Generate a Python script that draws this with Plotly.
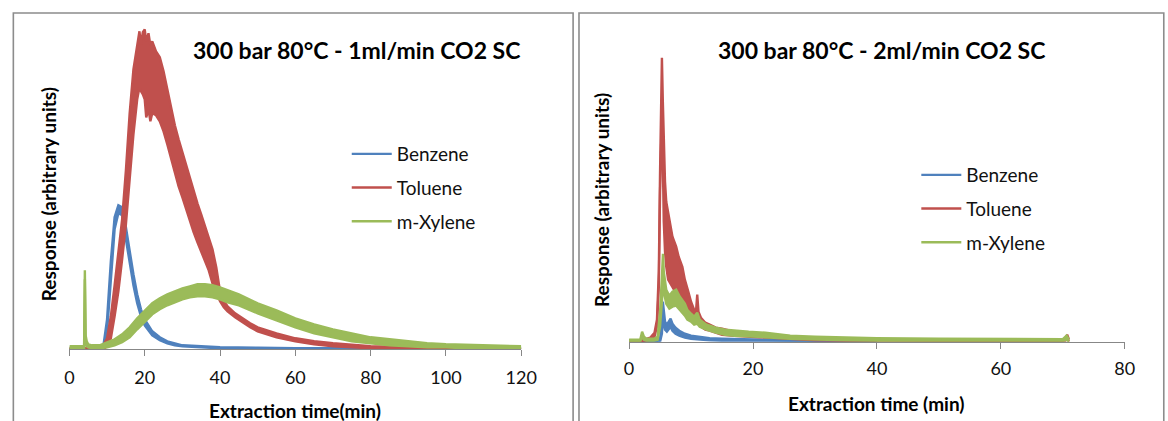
import plotly.graph_objects as go

W, H = 1168, 421

# ---------------- Left panel: 1 ml/min ----------------
L_benz_t = [0, 8, 9, 10, 11, 12, 13, 14, 15, 16, 17, 18, 19, 20, 22, 24, 26, 28, 30, 35, 40, 50, 60, 80, 100, 120]
L_benz_hi = [1, 1, 3, 30, 88, 132, 144, 142, 122, 96, 75, 55, 40, 30, 18, 12, 8, 6, 4, 3, 2, 1.5, 1, 1, 1, 1]
L_benz_lo = [0, 0, 0, 18, 70, 120, 136, 134, 110, 86, 64, 46, 33, 24, 14, 9, 6, 4, 3, 2, 1, 0.5, 0, 0, 0, 0]

L_tol_t = [0, 4, 8, 9, 10, 11, 12, 13, 14, 15, 16, 17, 18, 18.6, 19, 19.5, 20, 20.4, 21, 21.5, 22, 23, 24, 25, 26, 27, 28, 29,
           30, 31, 32, 33, 34, 35, 36, 37, 38, 39, 40, 41, 42, 44, 46, 48, 50, 55, 60, 65, 70, 80, 90, 100, 110, 120]
L_tol_hi = [1, 1, 2, 4, 11, 33, 64, 95, 130, 179, 236, 280, 306, 318, 305, 317, 320, 308, 316, 304, 308, 298, 292, 278, 260, 242, 224, 210,
            197, 183, 170, 158, 146, 135, 124, 112, 100, 82, 58, 48, 43, 36, 31, 26, 22, 16, 11, 8, 6, 3, 2, 1, 1, 1]
L_tol_lo = [0, 0, 0, 0, 3, 11, 33, 58, 90, 125, 170, 215, 250, 262, 258, 255, 250, 232, 240, 228, 236, 234, 228, 218, 205, 190, 176, 163,
            152, 140, 128, 117, 107, 97, 88, 79, 66, 56, 48, 42, 38, 32, 27, 22, 18, 12, 8, 5, 3, 1, 0, 0, 0, 0]

L_xyl_t = [0, 3.9, 4.1, 4.3, 4.6, 5.0, 6, 7, 8, 10, 12, 14, 16, 18, 20, 22, 24, 26, 28, 30, 32, 34, 36, 38, 40,
           42, 45, 50, 55, 60, 65, 70, 75, 80, 85, 90, 95, 100, 105, 110, 115, 120]
L_xyl_hi = [3, 3, 79, 14, 8, 5, 4, 4, 4, 7, 10, 15, 22, 31, 39, 46, 51, 55, 58, 61, 63, 65, 65, 64, 62,
            59, 55, 46, 39, 31, 25, 20, 16, 12, 10, 8, 6, 5, 4.5, 4, 3.5, 3]
L_xyl_lo = [0, 0, 70, 6, 3, 2, 1, 1, 1, 2, 4, 7, 12, 20, 28, 35, 40, 44, 47, 50, 52, 53, 53, 52, 50,
            47, 44, 36, 29, 22, 16, 12, 8, 6, 4, 3, 2, 2, 1, 1, 1, 1]

# ---------------- Right panel: 2 ml/min ----------------
R_benz_t = [0, 4.5, 5.0, 5.3, 5.45, 5.6, 5.8, 6.1, 6.4, 6.7, 7.0, 7.5, 8.1, 9.0, 10, 11.5, 13, 15, 18, 22, 26, 30, 35, 40]
R_benz_hi = [1, 1, 3, 20, 40, 30, 20, 17, 20, 23, 18, 14, 11, 8, 6, 4.5, 3.5, 3, 2.5, 2, 1.5, 1, 0.5, 0.5]
R_benz_lo = [0, 0, 0, 8, 28, 18, 12, 10, 13, 15, 11, 8, 6, 4, 3, 2, 1.5, 1, 0.5, 0.5, 0, 0, 0, 0]

R_tol_t = [0, 2, 3.4, 4.1, 4.5, 4.8, 5.0, 5.15, 5.3, 5.45, 5.6, 5.8, 6.0, 6.3, 6.7, 7.0, 7.6, 8.0, 8.6, 9.0, 9.6,
           10.0, 10.5, 10.8, 11.0, 11.2, 11.6, 12.3, 13, 14, 15, 17, 19, 21, 23, 26, 30, 35, 40, 50, 60, 70, 70.4, 70.7, 71]
R_tol_hi = [1, 1, 4, 9, 22, 70, 170, 220, 284, 240, 190, 160, 140, 129, 112, 105, 95, 85, 75, 62, 49,
            40, 32, 30, 47, 30, 24, 19, 17, 14, 13, 10, 9, 8, 7, 5, 3.5, 2.5, 2, 1.5, 1.5, 1.5, 3, 7, 2]
R_tol_lo = [0, 0, 2, 5, 15, 55, 150, 190, 230, 180, 120, 90, 75, 62, 58, 54, 49, 44, 35, 30, 25,
            22, 20, 19, 21, 18, 15, 12, 11, 9, 7, 6, 5, 4.5, 4, 3, 1.5, 1, 0.5, 0, 0, 0, 1, 3, 0]

R_xyl_t = [0, 1.8, 2.1, 2.4, 2.8, 4.0, 4.6, 5.0, 5.3, 5.47, 5.6, 5.8, 6.0, 6.5, 7.0, 7.6, 8.2, 9.0, 9.4, 10.0,
           10.5, 11.0, 11.4, 12.5, 14, 15.5, 17, 19.3, 22, 26, 30, 35, 40, 50, 60, 70, 70.6, 71]
R_xyl_hi = [2, 2, 10, 5, 3, 3, 5, 30, 65, 88, 70, 58, 52, 46, 50, 52, 45, 38, 32, 28,
            25, 29, 22, 17, 14, 12, 11, 10, 9, 6, 5, 4, 3.5, 3, 2.5, 2.5, 6, 2]
R_xyl_lo = [0, 0, 5, 2, 1, 1, 2, 15, 40, 60, 50, 42, 38, 33, 35, 36, 32, 26, 22, 20,
            17, 18, 15, 12, 9, 7, 6, 5, 4.5, 3, 2, 1.5, 1, 1, 0.5, 0.5, 2, 0]

names = ["Benzene", "Toluene", "m-Xylene"]
colors = ["#4F81BD", "#C0504D", "#9BBB59"]
left_ticks = [0, 20, 40, 60, 80, 100, 120]
right_ticks = [0, 20, 40, 60, 80]
titles = ["300 bar 80°C - 1ml/min CO2 SC", "300 bar 80°C - 2ml/min CO2 SC"]
xtitles = ["Extraction time(min)", "Extraction time (min)"]
ytitle = "Response (arbitrary units)"

FONT = "Lato, 'Open Sans', sans-serif"

def px(x):
    return x / W

def py(y):
    return 1 - y / H

fig = go.Figure()

panels = [
    ("x", "y", "legend", [(L_benz_t, L_benz_hi, L_benz_lo), (L_tol_t, L_tol_hi, L_tol_lo), (L_xyl_t, L_xyl_hi, L_xyl_lo)]),
    ("x2", "y2", "legend2", [(R_benz_t, R_benz_hi, R_benz_lo), (R_tol_t, R_tol_hi, R_tol_lo), (R_xyl_t, R_xyl_hi, R_xyl_lo)]),
]

for xa, ya, lg, series in panels:
    for i, (t, hi, lo) in enumerate(series):
        grp = f"{lg}-{i}"
        fig.add_trace(go.Scatter(x=t, y=hi, mode="lines", name=names[i],
                                 line=dict(color=colors[i], width=2.4),
                                 xaxis=xa, yaxis=ya, legend=lg, legendgroup=grp,
                                 showlegend=True, hoverinfo="skip"))
        fig.add_trace(go.Scatter(x=t, y=lo, mode="lines", name=names[i],
                                 line=dict(color=colors[i], width=2.4),
                                 fill="tonexty", fillcolor=colors[i],
                                 xaxis=xa, yaxis=ya, legend=lg, legendgroup=grp,
                                 showlegend=False, hoverinfo="skip"))

axis_common = dict(showgrid=False, zeroline=False, showline=True, linecolor="#878787", linewidth=1.3,
                   ticks="outside", ticklen=6, tickcolor="#878787", tickwidth=1.3,
                   tickfont=dict(family=FONT, size=18, color="#111"))
yaxis_common = dict(showgrid=False, zeroline=False, showline=False, showticklabels=False, ticks="")

LEG_FONT = dict(family=FONT, size=19, color="#111")

fig.update_layout(
    width=W, height=H,
    margin=dict(l=0, r=0, t=0, b=0),
    paper_bgcolor="white", plot_bgcolor="rgba(0,0,0,0)",
    font=dict(family=FONT, color="#111"),
    xaxis=dict(domain=[px(65.6), px(525.7)], range=[0, 120], tickvals=left_ticks,
               ticklabelstandoff=6, anchor="y", **axis_common),
    yaxis=dict(domain=[py(349.3), py(19)], range=[0, 330.3], anchor="x", **yaxis_common),
    xaxis2=dict(domain=[px(635.5), px(1140.3)], range=[0, 80], tickvals=right_ticks,
                ticklabelstandoff=5, anchor="y2", **axis_common),
    yaxis2=dict(domain=[py(341.7), py(19)], range=[0, 322.7], anchor="x2", **yaxis_common),
    legend=dict(x=px(397 - 49), y=py(135), xanchor="left", yanchor="top",
                font=LEG_FONT, tracegroupgap=6,
                bgcolor="rgba(0,0,0,0)", itemwidth=40),
    legend2=dict(x=px(977 - 49), y=py(156), xanchor="left", yanchor="top",
                 font=LEG_FONT, tracegroupgap=6,
                 bgcolor="rgba(0,0,0,0)", itemwidth=40),
    shapes=[
        dict(type="rect", xref="paper", yref="paper", x0=px(8.5), x1=px(578.5), y0=py(430), y1=py(13),
             line=dict(color="#8C8C8C", width=1.6), layer="below"),
        dict(type="rect", xref="paper", yref="paper", x0=px(584.5), x1=px(1180), y0=py(430), y1=py(13),
             line=dict(color="#8C8C8C", width=1.6), layer="below"),
    ],
    annotations=[
        dict(text=f"<b>{titles[0]}</b>", x=px(358), y=py(50), xref="paper", yref="paper",
             showarrow=False, xanchor="center", yanchor="middle", font=dict(family=FONT, size=23, color="#000")),
        dict(text=f"<b>{titles[1]}</b>", x=px(893), y=py(50), xref="paper", yref="paper",
             showarrow=False, xanchor="center", yanchor="middle", font=dict(family=FONT, size=23, color="#000")),
        dict(text=f"<b>{xtitles[0]}</b>", x=px(295), y=py(410), xref="paper", yref="paper",
             showarrow=False, xanchor="center", yanchor="middle", font=dict(family=FONT, size=19, color="#000")),
        dict(text=f"<b>{xtitles[1]}</b>", x=px(887), y=py(403), xref="paper", yref="paper",
             showarrow=False, xanchor="center", yanchor="middle", font=dict(family=FONT, size=19, color="#000")),
        dict(text=f"<b>{ytitle}</b>", x=px(44), y=py(194), xref="paper", yref="paper", textangle=-90,
             showarrow=False, xanchor="center", yanchor="middle", font=dict(family=FONT, size=19, color="#000")),
        dict(text=f"<b>{ytitle}</b>", x=px(607), y=py(200), xref="paper", yref="paper", textangle=-90,
             showarrow=False, xanchor="center", yanchor="middle", font=dict(family=FONT, size=19, color="#000")),
    ],
)

fig.write_html("out.html")
